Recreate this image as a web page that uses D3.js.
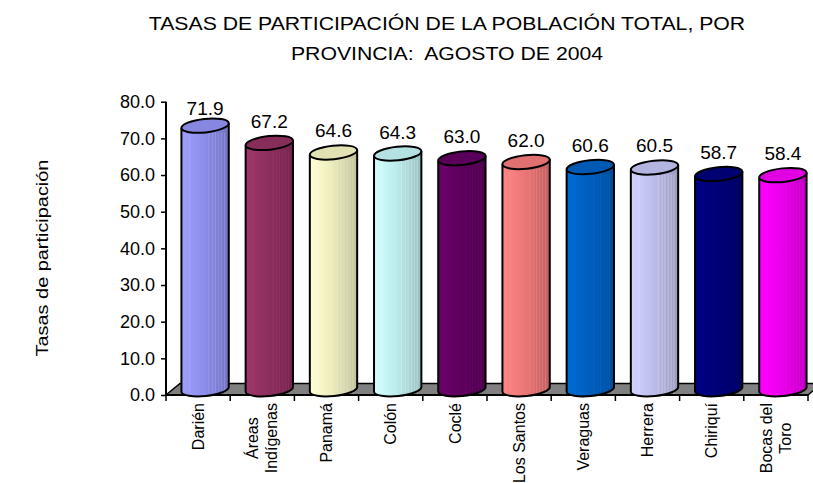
<!DOCTYPE html>
<html>
<head>
<meta charset="utf-8">
<script src="https://cdn.jsdelivr.net/npm/d3@7"></script>
<style>
  body { margin: 0; background: #fff; }
  text { font-family: Arial, "Liberation Sans", sans-serif; fill: #000; }
</style>
</head>
<body>
<svg id="chart" width="813" height="483"></svg>
<script>
// data
var provincias = ["Darién", "Áreas Indígenas", "Panamá", "Colón", "Coclé",
                  "Los Santos", "Veraguas", "Herrera", "Chiriquí", "Bocas del Toro"];
var etiquetas = [["Darién"], ["Áreas", "Indígenas"], ["Panamá"], ["Colón"], ["Coclé"],
                 ["Los Santos"], ["Veraguas"], ["Herrera"], ["Chiriquí"], ["Bocas del", "Toro"]];
var tasas = [71.9, 67.2, 64.6, 64.3, 63.0, 62.0, 60.6, 60.5, 58.7, 58.4];
var colores = ["#9999FF", "#993366", "#FFFFCC", "#CCFFFF", "#660066",
               "#FF8080", "#0066CC", "#CCCCFF", "#000080", "#FF00FF"];
var yTicks = [0, 10, 20, 30, 40, 50, 60, 70, 80];
var titulo = ["TASAS DE PARTICIPACIÓN DE LA POBLACIÓN TOTAL, POR", "PROVINCIA:  AGOSTO DE 2004"];
var yTitulo = "Tasas de participación";

var svg = d3.select("#chart");
var defs = svg.append("defs");

var x = d3.scaleBand().domain(provincias).range([166, 808]).padding(0);
var y = d3.scaleLinear().domain([0, 80]).range([395, 101.7]);

// 3d depth of the floor
var depthX = 14, depthY = -11.5;
var rx = 23.8, ry = 6.8, rot = -6;
var rad = rot * Math.PI / 180;

// title (the original text is a bit stretched sideways)
svg.append("g").selectAll("text").data(titulo).enter().append("text")
  .attr("transform", function(d, i) { return "translate(447," + (30 + i * 30) + ") scale(1.18,1)"; })
  .attr("text-anchor", "middle")
  .style("font-size", "18px")
  .style("white-space", "pre")
  .text(function(d) { return d; });

// y title
svg.append("text")
  .attr("transform", "translate(48,258) rotate(-90) scale(1.17,1)")
  .attr("text-anchor", "middle")
  .style("font-size", "17px")
  .text(yTitulo);

// floor
var x0 = x.range()[0], x1 = x.range()[1];
svg.append("path")
  .attr("d", "M" + x0 + "," + y(0) + "L" + x1 + "," + y(0) +
             "L" + (x1 + depthX) + "," + (y(0) + depthY) +
             "L" + (x0 + depthX) + "," + (y(0) + depthY) + "Z")
  .attr("fill", "#808080")
  .attr("stroke", "#000")
  .attr("stroke-width", 1.5);

// y axis
var yAxis = svg.append("g")
  .attr("transform", "translate(" + x0 + ",0)")
  .call(d3.axisLeft(y).tickValues(yTicks).tickFormat(d3.format(".1f")).tickSize(5).tickPadding(6));
yAxis.select(".domain").attr("stroke-width", 2).attr("d", "M0," + y(80) + "V" + y(0));
yAxis.selectAll(".tick line").attr("stroke-width", 1.5);
yAxis.selectAll(".tick text").style("font-size", "18px").style("font-family", "Arial, 'Liberation Sans', sans-serif");

// x axis line + ticks on band edges
var edges = provincias.map(function(d) { return x(d); }).concat([x1]);
svg.append("line")
  .attr("x1", x0).attr("x2", x1).attr("y1", y(0)).attr("y2", y(0))
  .attr("stroke", "#000").attr("stroke-width", 2);
svg.append("g").selectAll("line").data(edges).enter().append("line")
  .attr("x1", function(d) { return d; }).attr("x2", function(d) { return d; })
  .attr("y1", y(0)).attr("y2", y(0) + 6)
  .attr("stroke", "#000").attr("stroke-width", 1.5);

// gradients
colores.forEach(function(c, i) {
  var g = defs.append("linearGradient").attr("id", "grad" + i)
    .attr("x1", 0).attr("x2", 1).attr("y1", 0).attr("y2", 0);
  g.append("stop").attr("offset", 0).attr("stop-color", d3.color(c).brighter(0.1));
  g.append("stop").attr("offset", 0.45).attr("stop-color", d3.color(c).darker(0.2));
  g.append("stop").attr("offset", 1).attr("stop-color", d3.color(c).darker(0.8));
});

var stripes = [0.17, 0.58, 0.66, 0.72, 0.79, 0.85, 0.91];

var bars = svg.append("g").selectAll("g").data(tasas).enter().append("g");

bars.each(function(v, i) {
  var g = d3.select(this);
  var cx = x(provincias[i]) + x.bandwidth() / 2 + depthX / 2;
  var cTop = y(v) + depthY / 2;
  var cBot = y(0) + depthY / 2;
  var ax = rx * Math.cos(rad), ay = rx * Math.sin(rad);

  // body
  g.append("path")
    .attr("d", "M" + (cx - ax) + "," + (cTop - ay) +
               "L" + (cx - ax) + "," + (cBot - ay) +
               "A" + rx + "," + ry + " " + rot + " 0 0 " + (cx + ax) + "," + (cBot + ay) +
               "L" + (cx + ax) + "," + (cTop + ay) + "Z")
    .attr("fill", "url(#grad" + i + ")");

  // faint vertical stripes
  g.selectAll("line.s").data(stripes).enter().append("line")
    .attr("class", "s")
    .attr("x1", function(f) { return cx - ax + f * 2 * ax; })
    .attr("x2", function(f) { return cx - ax + f * 2 * ax; })
    .attr("y1", cTop + ry)
    .attr("y2", cBot + ry - 2)
    .attr("stroke", d3.color(colores[i]).brighter(0.6))
    .attr("stroke-opacity", 0.3)
    .attr("stroke-width", 1);

  // outline
  g.append("path")
    .attr("d", "M" + (cx - ax) + "," + (cTop - ay) +
               "L" + (cx - ax) + "," + (cBot - ay) +
               "A" + rx + "," + ry + " " + rot + " 0 0 " + (cx + ax) + "," + (cBot + ay) +
               "L" + (cx + ax) + "," + (cTop + ay))
    .attr("fill", "none")
    .attr("stroke", "#000")
    .attr("stroke-width", 2);

  // top
  g.append("ellipse")
    .attr("transform", "translate(" + cx + "," + cTop + ") rotate(" + rot + ")")
    .attr("rx", rx).attr("ry", ry)
    .attr("fill", d3.color(colores[i]).darker(0.35))
    .attr("stroke", "#000")
    .attr("stroke-width", 2);

  // value label
  g.append("text")
    .attr("x", cx)
    .attr("y", Math.max(cTop - 15, 115))
    .attr("text-anchor", "middle")
    .style("font-size", "19px")
    .text(d3.format(".1f")(v));
});

// category labels, rotated, lines centred on the longest one
var cat = svg.append("g").selectAll("text").data(etiquetas).enter().append("text")
  .style("font-size", "16px");
cat.each(function(lines, i) {
  var t = d3.select(this);
  var n = lines.length;
  var cx = x(provincias[i]) + x.bandwidth() / 2;
  lines.forEach(function(l, k) {
    t.append("tspan")
      .attr("x", 0)
      .attr("dy", k === 0 ? (0.35 - (n - 1) * 0.6) + "em" : "1.2em")
      .text(l);
  });
  var w = 0;
  t.selectAll("tspan").each(function() { w = Math.max(w, this.getComputedTextLength()); });
  t.attr("text-anchor", "middle")
   .attr("transform", "translate(" + cx + "," + (403 + w / 2) + ") rotate(-90)");
});
</script>
</body>
</html>
